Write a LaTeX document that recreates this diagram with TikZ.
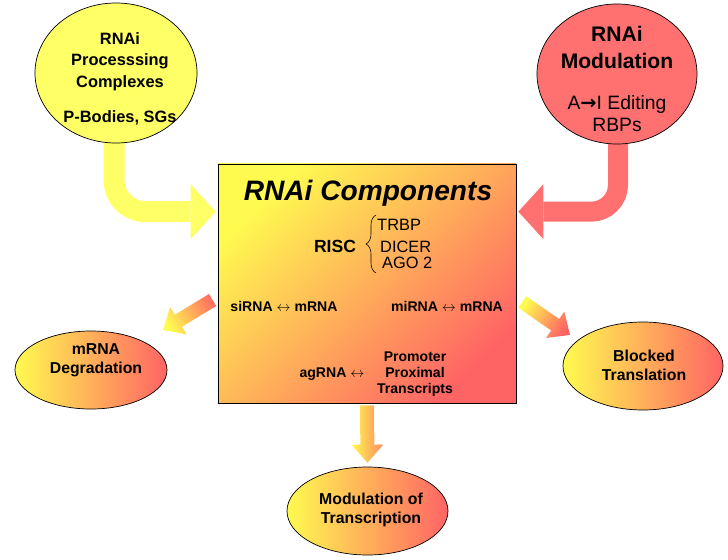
\documentclass[tikz,border=0pt]{standalone}
\usepackage{fontspec}
\setmainfont{Liberation Sans}
\newfontfamily\symfont{DejaVu Sans}
\usepackage{tikz}
\usetikzlibrary{arrows.meta,calc}
\usetikzlibrary{positioning}
\usetikzlibrary{shapes.geometric}
\usetikzlibrary{backgrounds,decorations.pathreplacing}
\definecolor{ryellow}{RGB}{255,255,102}
\definecolor{rred}{RGB}{255,112,112}
\definecolor{gyellow}{RGB}{255,250,80}
\definecolor{gred}{RGB}{255,100,100}
\newcommand{\gradarrow}[3]{%
  \coordinate (hb) at ($(#2)!0.54cm!(#1)$);
  \shade[#3] ($(#1)!0.21cm!90:(#2)$) -- ($(hb)!0.21cm!90:(#2)$)
    -- ($(hb)!0.48cm!90:(#2)$) -- (#2) -- ($(hb)!0.48cm!-90:(#2)$)
    -- ($(hb)!0.21cm!-90:(#2)$) -- ($(#1)!0.21cm!-90:(#2)$) -- cycle;}
\tikzset{
  oval/.style={ellipse, draw=black, line width=0.6pt, inner sep=0pt},
  gradoval/.style={oval, left color=gyellow, right color=gred,
                   minimum width=4.8cm, minimum height=2.64cm},
  ovaltext/.style={align=center, inner sep=0pt,
                   font=\bfseries\fontsize{13.5}{16}\selectfont},
  bigarrow/.style={line width=0.63cm, rounded corners=0.95cm,
                   -{Triangle[length=0.75cm,width=1.65cm,line width=0pt]}},
  pair/.style={inner sep=0pt, font=\bfseries\fontsize{12}{13.6}\selectfont},
  item/.style={inner sep=0pt, anchor=base west, font=\fontsize{14}{16}\selectfont}
}

\begin{document}
\begin{tikzpicture}[x=0.03cm, y=0.03cm]
  \useasboundingbox (0,0) rectangle (728,-559);

  \node[oval, fill=ryellow, minimum width=4.86cm, minimum height=4.2cm] (proc) at (116,-73) {};
  \node[ovaltext, font=\bfseries\fontsize{14}{18.3}\selectfont] (proctxt) at (120,-79)
    {RNAi\\Processsing\\Complexes\\[12pt]P-Bodies, SGs};
  \node[oval, fill=rred, minimum width=4.8cm, minimum height=4.2cm] (mod) at (617,-74) {};
  \node[ovaltext, font=\bfseries\fontsize{18}{23}\selectfont] (modttl) at (617,-47) {RNAi\\Modulation};
  \node[ovaltext, font=\fontsize{16.5}{18.7}\selectfont] (modsub) at (617,-114)
    {A{\symfont\bfseries →}I Editing\\RBPs};

  \node[draw=black, line width=0.6pt, minimum width=8.94cm, minimum height=7.17cm,
        bottom color=gyellow, top color=gred, shading angle=-135] (comp) at (367,-283.5) {};
  \node[inner sep=0pt, anchor=base, font=\bfseries\itshape\fontsize{24}{28}\selectfont]
    (ttl) at (368,-200) {RNAi Components};
  \node[inner sep=0pt, anchor=base, font=\bfseries\fontsize{15}{18}\selectfont] (risc) at (335,-252) {RISC};
  \node[item] (trbp) at (377,-230) {TRBP};
  \node[item] (dicer) at (380,-252) {DICER};
  \node[item] (ago) at (382,-268) {AGO 2};
  \coordinate (bbot) at (376,-273);
  \coordinate (btop) at (376,-215);
  \draw[decorate, decoration={brace, amplitude=0.3cm}, line width=0.5pt] (bbot) -- (btop);
  \node[pair, anchor=base] (sir) at (284,-311) {siRNA $\leftrightarrow$ mRNA};
  \node[pair, anchor=base] (mir) at (447,-311) {miRNA $\leftrightarrow$ mRNA};
  \node[pair, anchor=base] (agr) at (332,-377) {agRNA $\leftrightarrow$};
  \node[pair, align=center, font=\bfseries\fontsize{12}{13.6}\selectfont] (ppt) at (415,-374)
    {Promoter\\Proximal\\Transcripts};

  \node[gradoval, minimum width=4.56cm, minimum height=2.34cm] (degr) at (91,-370) {};
  \node[ovaltext] (degrtxt) at (96,-360) {mRNA\\Degradation};
  \node[gradoval] (blk) at (643,-366) {};
  \node[ovaltext] (blktxt) at (644,-365) {Blocked\\Translation};
  \node[gradoval, minimum width=4.83cm] (trans) at (367.5,-511) {};
  \node[ovaltext] (transtxt) at (371,-510) {Modulation of\\Transcription};

  % feeding arrows
  \begin{scope}[on background layer]
    \coordinate (ltip) at ($(comp.north west)+(-2,-48)$);
    \coordinate (rtip) at ($(comp.north east)+(2,-48)$);
    \draw[bigarrow, ryellow] ($(proc.south)+(-2,4)$) |- (ltip);
    \draw[bigarrow, rred, line width=0.6cm, rounded corners=0.8cm] ($(mod.south)+(1,4)$) |- (rtip);
  \end{scope}

  % outcome arrows
  \coordinate (degs) at ($(comp.west)+(-5,-16.5)$);
  \coordinate (dege) at ($(degr.center)+(72,40)$);
  \coordinate (blks) at ($(comp.east)+(6,-18.5)$);
  \coordinate (blke) at ($(blk.center)+(-73,31)$);
  \coordinate (trs) at ($(comp.south)+(0,-2)$);
  \coordinate (tre) at ($(trans.north)+(0,4)$);
  \gradarrow{degs}{dege}{bottom color=gred!90!gyellow, top color=gyellow, shading angle=121}
  \gradarrow{blks}{blke}{bottom color=gyellow, top color=gred, shading angle=-124.5}
  \gradarrow{trs}{tre}{left color=gyellow, right color=gred!75!gyellow}
\end{tikzpicture}
\end{document}
